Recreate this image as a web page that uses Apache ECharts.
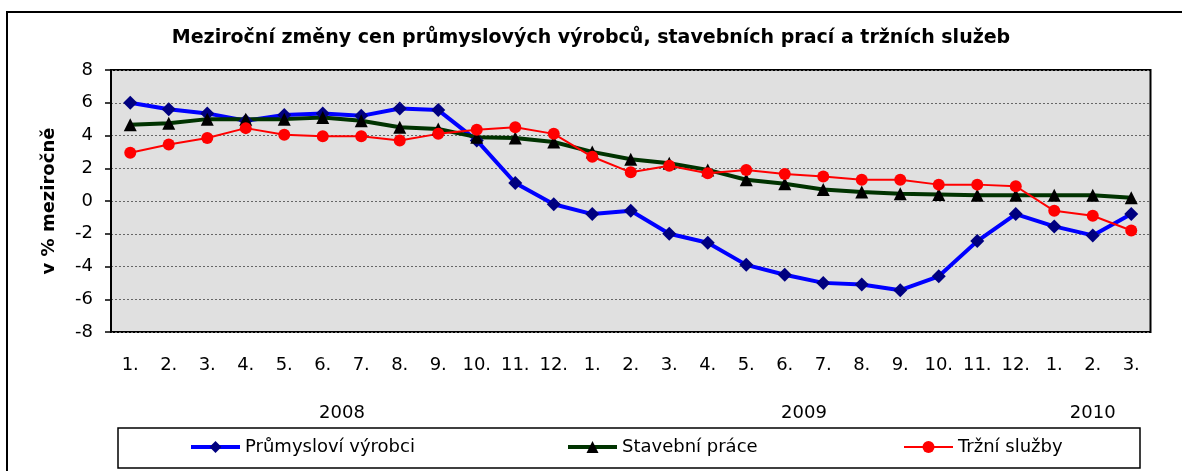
<!DOCTYPE html>
<html>
<head>
<meta charset="utf-8">
<title>Meziroční změny cen</title>
<script src="https://cdn.jsdelivr.net/npm/echarts@6/dist/echarts.min.js"></script>
<style>
  html, body { margin: 0; padding: 0; background: #fff; }
  #chart { width: 1182px; height: 471px; }
</style>
</head>
<body>
<div id="chart"></div>
<script>
// měsíce (kategorie osy x)
const months = ['1.', '2.', '3.', '4.', '5.', '6.', '7.', '8.', '9.', '10.', '11.', '12.',
  '1.', '2.', '3.', '4.', '5.', '6.', '7.', '8.', '9.', '10.', '11.', '12.',
  '1.', '2.', '3.']
// roky a počet měsíců v každém roce
const years = ['2008', '2009', '2010']
const monthsInYear = [12, 12, 3]
// osa y
const yMin = -8
const yMax = 8
const yStep = 2

const seriesNames = ['Průmysloví výrobci', 'Stavební práce', 'Tržní služby']
const prumysl = [6.0, 5.6, 5.35, 4.9, 5.25, 5.35, 5.2, 5.65, 5.55, 3.7, 1.1, -0.2,
  -0.8, -0.6, -2.0, -2.55, -3.9, -4.5, -5.0, -5.1, -5.45, -4.6, -2.45, -0.8,
  -1.55, -2.1, -0.8]
const stavebni = [4.65, 4.75, 5.0, 5.0, 5.0, 5.1, 4.9, 4.5, 4.4, 3.9, 3.85, 3.6,
  3.0, 2.55, 2.3, 1.9, 1.3, 1.05, 0.7, 0.55, 0.45, 0.4, 0.35, 0.35,
  0.35, 0.35, 0.2]
const sluzby = [2.95, 3.45, 3.85, 4.45, 4.05, 3.95, 3.95, 3.7, 4.1, 4.35, 4.5, 4.1,
  2.7, 1.75, 2.15, 1.7, 1.9, 1.65, 1.5, 1.3, 1.3, 1.0, 1.0, 0.9,
  -0.6, -0.9, -1.8]

// středy roků na pomocné hodnotové ose (0 .. počet měsíců)
const yearCenters = {}
let acc = 0
years.forEach((y, i) => {
  yearCenters[acc + monthsInYear[i] / 2] = y
  acc += monthsInYear[i]
})

const font = '"DejaVu Sans", Arial, sans-serif'

const chart = echarts.init(document.getElementById('chart'))

function legendFor(name, left, lineWidth) {
  return {
    data: [name],
    left: left,
    top: 438,
    padding: 0,
    itemWidth: 49,
    itemHeight: 15,
    itemGap: 0,
    lineStyle: { width: lineWidth },
    textStyle: { fontFamily: font, fontSize: 18, color: '#000' },
    selectedMode: false
  }
}

chart.setOption({
  animation: false,
  backgroundColor: '#fff',
  textStyle: { fontFamily: font },
  title: {
    text: 'Meziroční změny cen průmyslových výrobců, stavebních prací a tržních služeb',
    left: 'center',
    top: 24,
    textStyle: { fontFamily: font, fontSize: 19, fontWeight: 'bold', color: '#000' }
  },
  legend: [
    legendFor(seriesNames[0], 189, 4),
    legendFor(seriesNames[1], 566, 4),
    legendFor(seriesNames[2], 903, 2)
  ],
  grid: {
    left: 111,
    right: 31.5,
    top: 70,
    bottom: 139,
    show: true,
    backgroundColor: '#e0e0e0',
    borderColor: '#000',
    borderWidth: 2,
    containLabel: false
  },
  xAxis: [
    {
      type: 'category',
      data: months,
      boundaryGap: true,
      axisLine: { show: false },
      axisTick: { show: false },
      axisLabel: { interval: 0, margin: 24, fontSize: 18, color: '#000', fontFamily: font },
      splitLine: { show: false }
    },
    {
      // pomocná osa pro popisky roků
      type: 'value',
      position: 'bottom',
      offset: 0,
      min: 0,
      max: months.length,
      interval: 0.5,
      axisLine: { show: false },
      axisTick: { show: false },
      splitLine: { show: false },
      axisLabel: {
        margin: 72,
        fontSize: 18,
        color: '#000',
        fontFamily: font,
        showMinLabel: true,
        showMaxLabel: true,
        formatter: v => yearCenters[v] || ''
      }
    }
  ],
  yAxis: {
    type: 'value',
    min: yMin,
    max: yMax,
    interval: yStep,
    name: 'v % meziročně',
    nameLocation: 'middle',
    nameGap: 53,
    nameRotate: 90,
    nameTextStyle: { fontFamily: font, fontSize: 18, fontWeight: 'bold', color: '#000' },
    axisLine: { show: true, lineStyle: { color: '#000', width: 2 } },
    axisTick: { show: true, inside: false, length: 6, lineStyle: { color: '#000', width: 1.5 } },
    axisLabel: { margin: 18, fontSize: 18, color: '#000', fontFamily: font },
    splitLine: { show: true, lineStyle: { color: '#666', width: 1, type: [2, 2] } }
  },
  series: [
    {
      name: seriesNames[0],
      type: 'line',
      data: prumysl,
      symbol: 'diamond',
      symbolSize: 14,
      lineStyle: { color: '#0000ff', width: 4 },
      itemStyle: { color: '#000080' }
    },
    {
      name: seriesNames[1],
      type: 'line',
      data: stavebni,
      symbol: 'triangle',
      symbolSize: 13,
      lineStyle: { color: '#003300', width: 4 },
      itemStyle: { color: '#000' }
    },
    {
      name: seriesNames[2],
      type: 'line',
      data: sluzby,
      symbol: 'circle',
      symbolSize: 12,
      lineStyle: { color: '#ff0000', width: 2 },
      itemStyle: { color: '#ff0000' }
    }
  ],
  graphic: [
    {
      // rámeček celého grafu
      type: 'rect',
      shape: { x: 7, y: 12, width: 1200, height: 500 },
      style: { fill: null, stroke: '#000', lineWidth: 2 },
      silent: true
    },
    {
      // rámeček legendy
      type: 'rect',
      shape: { x: 118, y: 428, width: 1022, height: 40 },
      style: { fill: null, stroke: '#000', lineWidth: 1.5 },
      silent: true,
      z: -1
    }
  ]
})
</script>
</body>
</html>
